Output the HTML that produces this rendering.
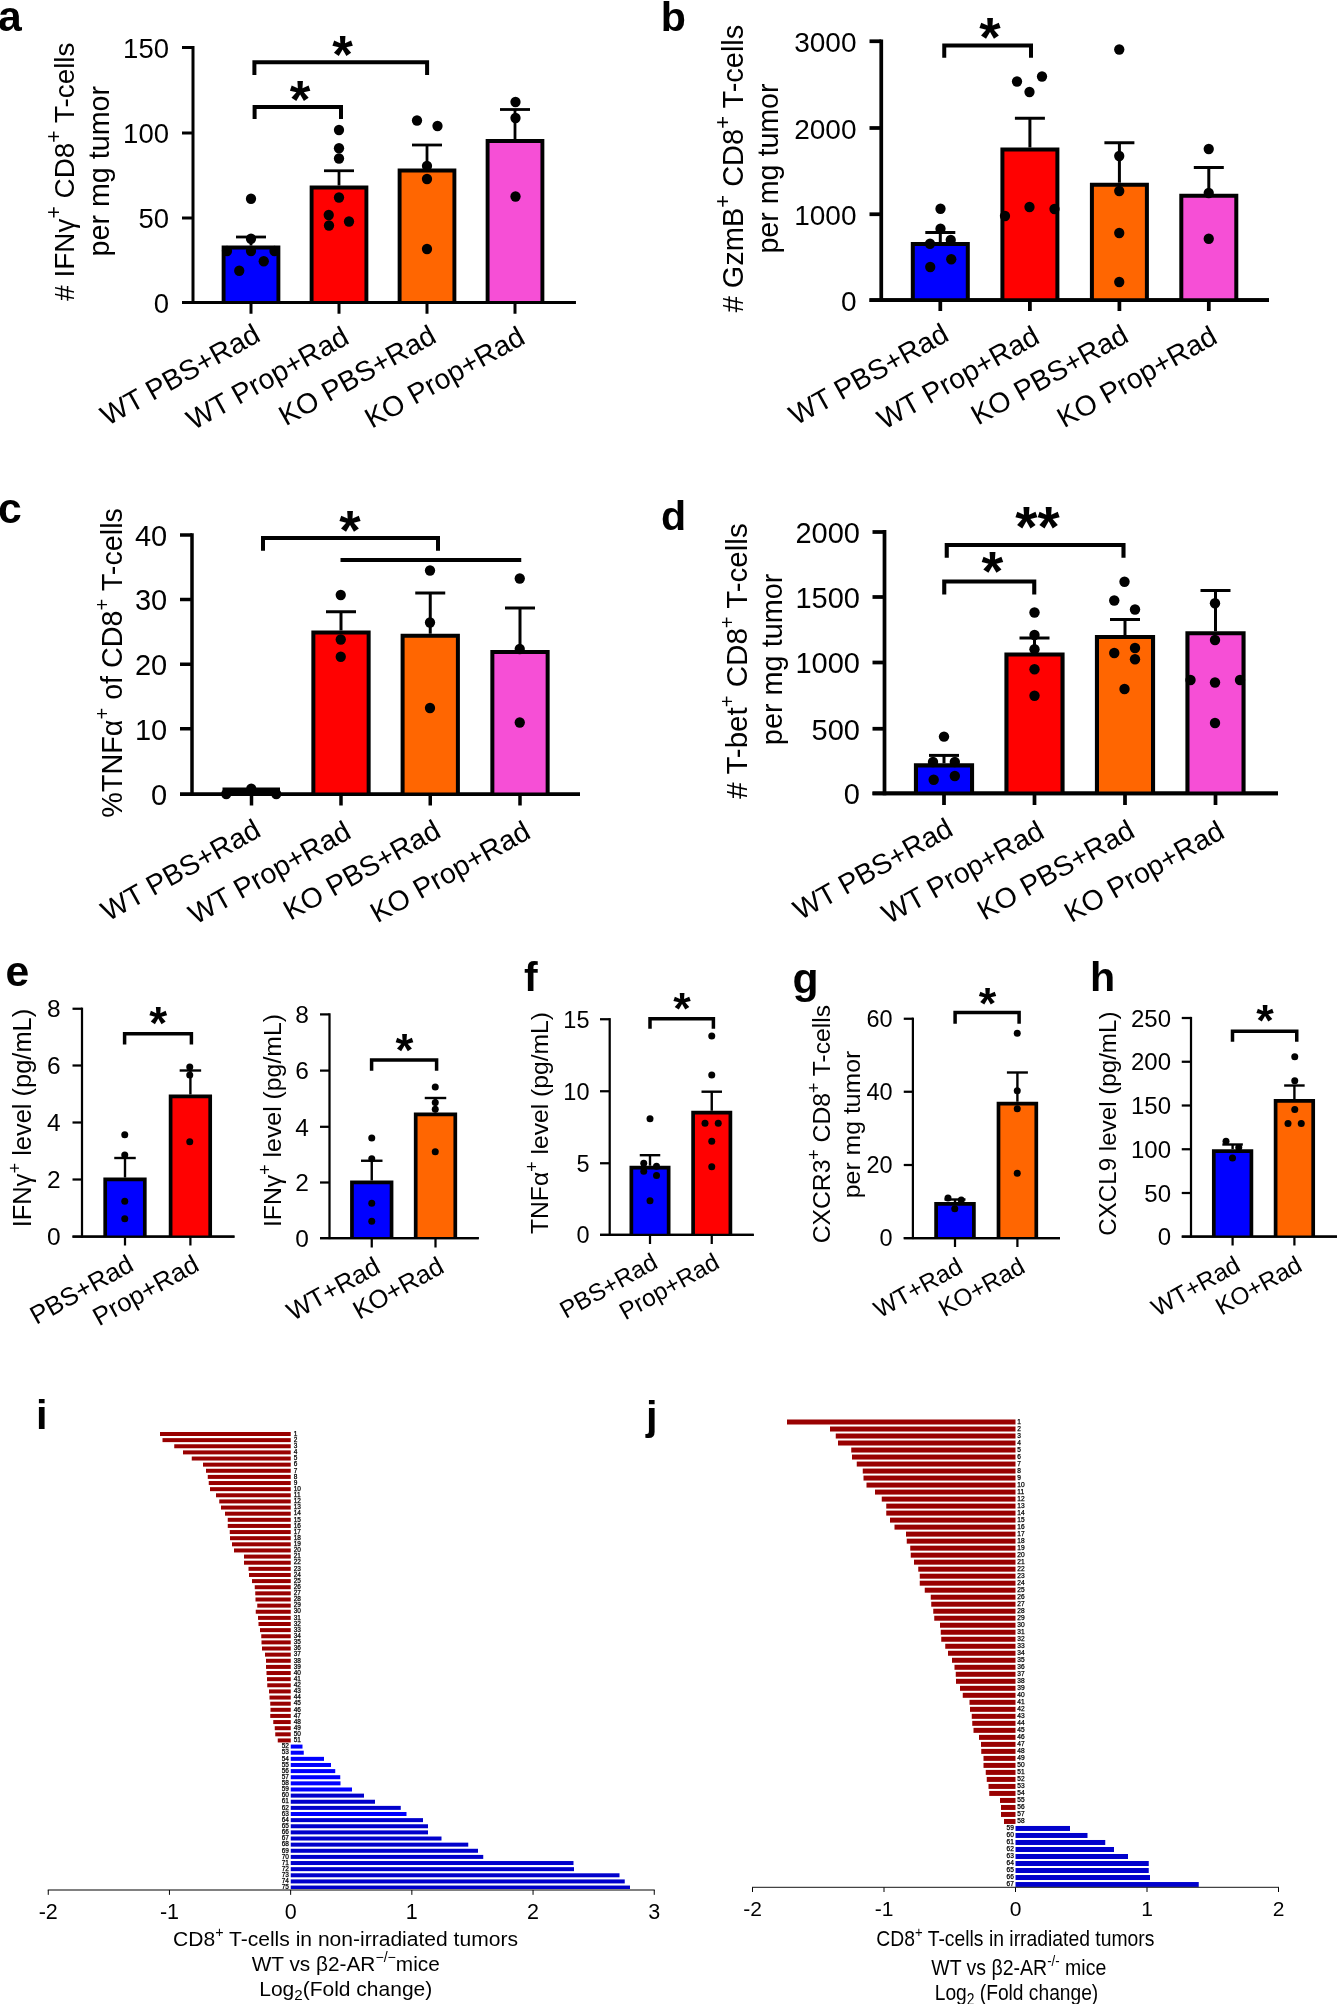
<!DOCTYPE html>
<html><head><meta charset="utf-8"><title>Figure</title>
<style>
html,body{margin:0;padding:0;background:#fff;}
body{width:1337px;height:2004px;overflow:hidden;font-family:"Liberation Sans",sans-serif;}
svg{display:block;}
svg text{font-family:"Liberation Sans",sans-serif;fill:#000;}
</style></head><body>
<svg width="1337" height="2004" viewBox="0 0 1337 2004">
<rect width="1337" height="2004" fill="#fff"/>
<g opacity="0.999">
<line x1="193" y1="46" x2="193" y2="304" stroke="#000" stroke-width="3" stroke-linecap="butt"/>
<line x1="182" y1="302.5" x2="575.8" y2="302.5" stroke="#000" stroke-width="3" stroke-linecap="butt"/>
<line x1="182" y1="47.5" x2="193" y2="47.5" stroke="#000" stroke-width="3" stroke-linecap="butt"/>
<text x="169" y="57.8" font-size="27.5" text-anchor="end" font-weight="normal" >150</text>
<line x1="182" y1="133" x2="193" y2="133" stroke="#000" stroke-width="3" stroke-linecap="butt"/>
<text x="169" y="143.3" font-size="27.5" text-anchor="end" font-weight="normal" >100</text>
<line x1="182" y1="218" x2="193" y2="218" stroke="#000" stroke-width="3" stroke-linecap="butt"/>
<text x="169" y="228.3" font-size="27.5" text-anchor="end" font-weight="normal" >50</text>
<text x="169" y="312.8" font-size="27.5" text-anchor="end" font-weight="normal" >0</text>
<line x1="251" y1="302.5" x2="251" y2="313.75" stroke="#000" stroke-width="3" stroke-linecap="butt"/>
<rect x="223.6" y="247.45" width="54.8" height="55.05" fill="#0000ff"/>
<path d="M223.6 302.5V247.45H278.4V302.5" fill="none" stroke="#000" stroke-width="3.9" stroke-linejoin="miter"/>
<line x1="251" y1="237" x2="251" y2="245.5" stroke="#000" stroke-width="2.8" stroke-linecap="butt"/>
<line x1="236" y1="237" x2="266" y2="237" stroke="#000" stroke-width="2.8" stroke-linecap="butt"/>
<line x1="339" y1="302.5" x2="339" y2="313.75" stroke="#000" stroke-width="3" stroke-linecap="butt"/>
<rect x="311.6" y="187.45" width="54.8" height="115.05" fill="#ff0000"/>
<path d="M311.6 302.5V187.45H366.4V302.5" fill="none" stroke="#000" stroke-width="3.9" stroke-linejoin="miter"/>
<line x1="339" y1="170.75" x2="339" y2="185.5" stroke="#000" stroke-width="2.8" stroke-linecap="butt"/>
<line x1="324" y1="170.75" x2="354" y2="170.75" stroke="#000" stroke-width="2.8" stroke-linecap="butt"/>
<line x1="427" y1="302.5" x2="427" y2="313.75" stroke="#000" stroke-width="3" stroke-linecap="butt"/>
<rect x="399.6" y="170.45" width="54.8" height="132.05" fill="#ff6600"/>
<path d="M399.6 302.5V170.45H454.4V302.5" fill="none" stroke="#000" stroke-width="3.9" stroke-linejoin="miter"/>
<line x1="427" y1="145" x2="427" y2="168.5" stroke="#000" stroke-width="2.8" stroke-linecap="butt"/>
<line x1="412" y1="145" x2="442" y2="145" stroke="#000" stroke-width="2.8" stroke-linecap="butt"/>
<line x1="515" y1="302.5" x2="515" y2="313.75" stroke="#000" stroke-width="3" stroke-linecap="butt"/>
<rect x="487.6" y="140.95" width="54.8" height="161.55" fill="#f64fd6"/>
<path d="M487.6 302.5V140.95H542.4V302.5" fill="none" stroke="#000" stroke-width="3.9" stroke-linejoin="miter"/>
<line x1="515" y1="109.5" x2="515" y2="139" stroke="#000" stroke-width="2.8" stroke-linecap="butt"/>
<line x1="500" y1="109.5" x2="530" y2="109.5" stroke="#000" stroke-width="2.8" stroke-linecap="butt"/>
<line x1="182" y1="302.5" x2="575.8" y2="302.5" stroke="#000" stroke-width="3" stroke-linecap="butt"/>
<circle cx="251" cy="198.75" r="5.15" fill="#000"/>
<circle cx="251" cy="238.75" r="5.15" fill="#000"/>
<circle cx="227" cy="251" r="5.15" fill="#000"/>
<circle cx="251" cy="251" r="5.15" fill="#000"/>
<circle cx="274.5" cy="251" r="5.15" fill="#000"/>
<circle cx="263.75" cy="261.25" r="5.15" fill="#000"/>
<circle cx="239.25" cy="270.75" r="5.15" fill="#000"/>
<circle cx="339" cy="130" r="5.15" fill="#000"/>
<circle cx="339" cy="148.25" r="5.15" fill="#000"/>
<circle cx="339" cy="158.5" r="5.15" fill="#000"/>
<circle cx="339" cy="197.5" r="5.15" fill="#000"/>
<circle cx="328.75" cy="215" r="5.15" fill="#000"/>
<circle cx="349" cy="221.5" r="5.15" fill="#000"/>
<circle cx="329" cy="225.5" r="5.15" fill="#000"/>
<circle cx="417" cy="120.5" r="5.15" fill="#000"/>
<circle cx="437.5" cy="126" r="5.15" fill="#000"/>
<circle cx="427" cy="166" r="5.15" fill="#000"/>
<circle cx="427" cy="179" r="5.15" fill="#000"/>
<circle cx="427" cy="249" r="5.15" fill="#000"/>
<circle cx="515.5" cy="102" r="5.15" fill="#000"/>
<circle cx="515.5" cy="118" r="5.15" fill="#000"/>
<circle cx="515.5" cy="196.5" r="5.15" fill="#000"/>
<text transform="translate(262,340) rotate(-29.2)" font-size="28.4" text-anchor="end" font-weight="normal" >WT PBS+Rad</text>
<text transform="translate(350.8,342.5) rotate(-29.2)" font-size="28.4" text-anchor="end" font-weight="normal" >WT Prop+Rad</text>
<text transform="translate(438,341.3) rotate(-29.2)" font-size="28.4" text-anchor="end" font-weight="normal" >KO PBS+Rad</text>
<text transform="translate(526.8,342.5) rotate(-29.2)" font-size="28.4" text-anchor="end" font-weight="normal" >KO Prop+Rad</text>
<path d="M254.4 75V62.25H427.1V75" fill="none" stroke="#000" stroke-width="4"/>
<path d="M254.6 119V107H341V119" fill="none" stroke="#000" stroke-width="4"/>
<text x="342.5" y="73.04" font-size="53" text-anchor="middle" font-weight="bold" >*</text>
<text x="300" y="117.64" font-size="53" text-anchor="middle" font-weight="bold" >*</text>
<text transform="translate(73.7,171.6) rotate(-90)" font-size="27.89" text-anchor="middle" font-weight="normal" ># IFNγ<tspan font-size="76%" dy="-0.605em">+</tspan><tspan dy="0.460em"> CD8</tspan><tspan font-size="76%" dy="-0.605em">+</tspan><tspan dy="0.460em"> T-cells</tspan></text>
<text transform="translate(108.9,171.2) rotate(-90)" font-size="28.71" text-anchor="middle" font-weight="normal" >per mg tumor</text>
<text x="-2" y="31" font-size="42.7" text-anchor="start" font-weight="bold" >a</text>
<line x1="881.25" y1="39.38" x2="881.25" y2="301.88" stroke="#000" stroke-width="3.75" stroke-linecap="butt"/>
<line x1="869.5" y1="300" x2="1269" y2="300" stroke="#000" stroke-width="3.75" stroke-linecap="butt"/>
<line x1="869.5" y1="41.25" x2="881.25" y2="41.25" stroke="#000" stroke-width="3.75" stroke-linecap="butt"/>
<text x="856.5" y="52.05" font-size="28" text-anchor="end" font-weight="normal" >3000</text>
<line x1="869.5" y1="128" x2="881.25" y2="128" stroke="#000" stroke-width="3.75" stroke-linecap="butt"/>
<text x="856.5" y="138.8" font-size="28" text-anchor="end" font-weight="normal" >2000</text>
<line x1="869.5" y1="214.25" x2="881.25" y2="214.25" stroke="#000" stroke-width="3.75" stroke-linecap="butt"/>
<text x="856.5" y="225.05" font-size="28" text-anchor="end" font-weight="normal" >1000</text>
<text x="856.5" y="310.8" font-size="28" text-anchor="end" font-weight="normal" >0</text>
<line x1="940.3" y1="300" x2="940.3" y2="311" stroke="#000" stroke-width="3.75" stroke-linecap="butt"/>
<rect x="912.8" y="244" width="55" height="56" fill="#0000ff"/>
<path d="M912.8 300V244H967.8V300" fill="none" stroke="#000" stroke-width="4" stroke-linejoin="miter"/>
<line x1="940.3" y1="232.5" x2="940.3" y2="242" stroke="#000" stroke-width="3" stroke-linecap="butt"/>
<line x1="925.3" y1="232.5" x2="955.3" y2="232.5" stroke="#000" stroke-width="3" stroke-linecap="butt"/>
<line x1="1029.9" y1="300" x2="1029.9" y2="311" stroke="#000" stroke-width="3.75" stroke-linecap="butt"/>
<rect x="1002.4" y="149.5" width="55" height="150.5" fill="#ff0000"/>
<path d="M1002.4 300V149.5H1057.4V300" fill="none" stroke="#000" stroke-width="4" stroke-linejoin="miter"/>
<line x1="1029.9" y1="118.25" x2="1029.9" y2="147.5" stroke="#000" stroke-width="3" stroke-linecap="butt"/>
<line x1="1014.9" y1="118.25" x2="1044.9" y2="118.25" stroke="#000" stroke-width="3" stroke-linecap="butt"/>
<line x1="1119.4" y1="300" x2="1119.4" y2="311" stroke="#000" stroke-width="3.75" stroke-linecap="butt"/>
<rect x="1091.9" y="184.75" width="55" height="115.25" fill="#ff6600"/>
<path d="M1091.9 300V184.75H1146.9V300" fill="none" stroke="#000" stroke-width="4" stroke-linejoin="miter"/>
<line x1="1119.4" y1="142.75" x2="1119.4" y2="182.75" stroke="#000" stroke-width="3" stroke-linecap="butt"/>
<line x1="1104.4" y1="142.75" x2="1134.4" y2="142.75" stroke="#000" stroke-width="3" stroke-linecap="butt"/>
<line x1="1208.8" y1="300" x2="1208.8" y2="311" stroke="#000" stroke-width="3.75" stroke-linecap="butt"/>
<rect x="1181.3" y="195.75" width="55" height="104.25" fill="#f64fd6"/>
<path d="M1181.3 300V195.75H1236.3V300" fill="none" stroke="#000" stroke-width="4" stroke-linejoin="miter"/>
<line x1="1208.8" y1="167.5" x2="1208.8" y2="193.75" stroke="#000" stroke-width="3" stroke-linecap="butt"/>
<line x1="1193.8" y1="167.5" x2="1223.8" y2="167.5" stroke="#000" stroke-width="3" stroke-linecap="butt"/>
<line x1="869.5" y1="300" x2="1269" y2="300" stroke="#000" stroke-width="3.75" stroke-linecap="butt"/>
<circle cx="940.5" cy="208.75" r="5.15" fill="#000"/>
<circle cx="940.5" cy="228.75" r="5.15" fill="#000"/>
<circle cx="930" cy="243.75" r="5.15" fill="#000"/>
<circle cx="950.75" cy="240" r="5.15" fill="#000"/>
<circle cx="951.25" cy="259.25" r="5.15" fill="#000"/>
<circle cx="930.25" cy="267" r="5.15" fill="#000"/>
<circle cx="1017" cy="81.5" r="5.15" fill="#000"/>
<circle cx="1042" cy="76.5" r="5.15" fill="#000"/>
<circle cx="1029.5" cy="92" r="5.15" fill="#000"/>
<circle cx="1029.5" cy="207" r="5.15" fill="#000"/>
<circle cx="1054.5" cy="209" r="5.15" fill="#000"/>
<circle cx="1005" cy="216" r="5.15" fill="#000"/>
<circle cx="1119.25" cy="49.5" r="5.15" fill="#000"/>
<circle cx="1119.25" cy="156" r="5.15" fill="#000"/>
<circle cx="1119.25" cy="191" r="5.15" fill="#000"/>
<circle cx="1119.25" cy="233" r="5.15" fill="#000"/>
<circle cx="1119.25" cy="282" r="5.15" fill="#000"/>
<circle cx="1208.75" cy="149" r="5.15" fill="#000"/>
<circle cx="1208.75" cy="193" r="5.15" fill="#000"/>
<circle cx="1208.75" cy="238.75" r="5.15" fill="#000"/>
<text transform="translate(950.6,339.5) rotate(-29.2)" font-size="28.4" text-anchor="end" font-weight="normal" >WT PBS+Rad</text>
<text transform="translate(1041.4,342) rotate(-29.2)" font-size="28.4" text-anchor="end" font-weight="normal" >WT Prop+Rad</text>
<text transform="translate(1130.2,340.7) rotate(-29.2)" font-size="28.4" text-anchor="end" font-weight="normal" >KO PBS+Rad</text>
<text transform="translate(1219.1,342) rotate(-29.2)" font-size="28.4" text-anchor="end" font-weight="normal" >KO Prop+Rad</text>
<path d="M944.25 57.8V45.5H1031V57.8" fill="none" stroke="#000" stroke-width="4"/>
<text x="990" y="55.81" font-size="55" text-anchor="middle" font-weight="bold" >*</text>
<text transform="translate(743,168.55) rotate(-90)" font-size="28.97" text-anchor="middle" font-weight="normal" ># GzmB<tspan font-size="76%" dy="-0.605em">+</tspan><tspan dy="0.460em"> CD8</tspan><tspan font-size="76%" dy="-0.605em">+</tspan><tspan dy="0.460em"> T-cells</tspan></text>
<text transform="translate(778,168.5) rotate(-90)" font-size="28.61" text-anchor="middle" font-weight="normal" >per mg tumor</text>
<text x="660.7" y="30.5" font-size="41.2" text-anchor="start" font-weight="bold" >b</text>
<line x1="192" y1="533.25" x2="192" y2="796" stroke="#000" stroke-width="3.5" stroke-linecap="butt"/>
<line x1="180" y1="794.25" x2="580" y2="794.25" stroke="#000" stroke-width="3.5" stroke-linecap="butt"/>
<line x1="180" y1="535" x2="192" y2="535" stroke="#000" stroke-width="3.5" stroke-linecap="butt"/>
<text x="167.2" y="545.9" font-size="29" text-anchor="end" font-weight="normal" >40</text>
<line x1="180" y1="599.5" x2="192" y2="599.5" stroke="#000" stroke-width="3.5" stroke-linecap="butt"/>
<text x="167.2" y="610.4" font-size="29" text-anchor="end" font-weight="normal" >30</text>
<line x1="180" y1="664.25" x2="192" y2="664.25" stroke="#000" stroke-width="3.5" stroke-linecap="butt"/>
<text x="167.2" y="675.15" font-size="29" text-anchor="end" font-weight="normal" >20</text>
<line x1="180" y1="728.75" x2="192" y2="728.75" stroke="#000" stroke-width="3.5" stroke-linecap="butt"/>
<text x="167.2" y="739.65" font-size="29" text-anchor="end" font-weight="normal" >10</text>
<text x="167.2" y="805.15" font-size="29" text-anchor="end" font-weight="normal" >0</text>
<line x1="251.5" y1="794.25" x2="251.5" y2="805.5" stroke="#000" stroke-width="3.5" stroke-linecap="butt"/>
<line x1="341" y1="794.25" x2="341" y2="805.5" stroke="#000" stroke-width="3.5" stroke-linecap="butt"/>
<rect x="313.35" y="632.5" width="55.3" height="161.75" fill="#ff0000"/>
<path d="M313.35 794.25V632.5H368.65V794.25" fill="none" stroke="#000" stroke-width="4" stroke-linejoin="miter"/>
<line x1="341" y1="611.75" x2="341" y2="630.5" stroke="#000" stroke-width="3" stroke-linecap="butt"/>
<line x1="326" y1="611.75" x2="356" y2="611.75" stroke="#000" stroke-width="3" stroke-linecap="butt"/>
<line x1="430.25" y1="794.25" x2="430.25" y2="805.5" stroke="#000" stroke-width="3.5" stroke-linecap="butt"/>
<rect x="402.6" y="635.75" width="55.3" height="158.5" fill="#ff6600"/>
<path d="M402.6 794.25V635.75H457.9V794.25" fill="none" stroke="#000" stroke-width="4" stroke-linejoin="miter"/>
<line x1="430.25" y1="593" x2="430.25" y2="633.75" stroke="#000" stroke-width="3" stroke-linecap="butt"/>
<line x1="415.25" y1="593" x2="445.25" y2="593" stroke="#000" stroke-width="3" stroke-linecap="butt"/>
<line x1="520" y1="794.25" x2="520" y2="805.5" stroke="#000" stroke-width="3.5" stroke-linecap="butt"/>
<rect x="492.35" y="652" width="55.3" height="142.25" fill="#f64fd6"/>
<path d="M492.35 794.25V652H547.65V794.25" fill="none" stroke="#000" stroke-width="4" stroke-linejoin="miter"/>
<line x1="520" y1="608" x2="520" y2="650" stroke="#000" stroke-width="3" stroke-linecap="butt"/>
<line x1="505" y1="608" x2="535" y2="608" stroke="#000" stroke-width="3" stroke-linecap="butt"/>
<line x1="180" y1="794.25" x2="580" y2="794.25" stroke="#000" stroke-width="3.5" stroke-linecap="butt"/>
<circle cx="226.25" cy="794" r="5.15" fill="#000"/>
<circle cx="251.25" cy="788.75" r="5.15" fill="#000"/>
<circle cx="276.25" cy="794" r="5.15" fill="#000"/>
<circle cx="340.75" cy="595" r="5.15" fill="#000"/>
<circle cx="340.75" cy="639.5" r="5.15" fill="#000"/>
<circle cx="340.75" cy="656.75" r="5.15" fill="#000"/>
<circle cx="430" cy="570.5" r="5.15" fill="#000"/>
<circle cx="430" cy="622.5" r="5.15" fill="#000"/>
<circle cx="430" cy="708" r="5.15" fill="#000"/>
<circle cx="519.75" cy="578.5" r="5.15" fill="#000"/>
<circle cx="519.75" cy="649" r="5.15" fill="#000"/>
<circle cx="519.75" cy="722.5" r="5.15" fill="#000"/>
<text transform="translate(262.5,835.3) rotate(-29.2)" font-size="28.4" text-anchor="end" font-weight="normal" >WT PBS+Rad</text>
<text transform="translate(352.8,837) rotate(-29.2)" font-size="28.4" text-anchor="end" font-weight="normal" >WT Prop+Rad</text>
<text transform="translate(442.45,836) rotate(-29.2)" font-size="28.4" text-anchor="end" font-weight="normal" >KO PBS+Rad</text>
<text transform="translate(532.2,837) rotate(-29.2)" font-size="28.4" text-anchor="end" font-weight="normal" >KO Prop+Rad</text>
<path d="M263 550.8V538H438V550.8" fill="none" stroke="#000" stroke-width="4"/>
<line x1="340.5" y1="560" x2="521.25" y2="560" stroke="#000" stroke-width="4" stroke-linecap="butt"/>
<line x1="222.5" y1="790.5" x2="280" y2="790.5" stroke="#000" stroke-width="6" stroke-linecap="butt"/>
<text x="350" y="549.01" font-size="55" text-anchor="middle" font-weight="bold" >*</text>
<text transform="translate(121.9,662.9) rotate(-90)" font-size="28.76" text-anchor="middle" font-weight="normal" >%TNFα<tspan font-size="70%" dy="-0.643em">+</tspan><tspan dy="0.450em"> of CD8</tspan><tspan font-size="70%" dy="-0.643em">+</tspan><tspan dy="0.450em"> T-cells</tspan></text>
<text x="-2" y="522.5" font-size="42.7" text-anchor="start" font-weight="bold" >c</text>
<line x1="884.5" y1="530.12" x2="884.5" y2="795.17" stroke="#000" stroke-width="3.75" stroke-linecap="butt"/>
<line x1="872.5" y1="793.3" x2="1278" y2="793.3" stroke="#000" stroke-width="3.75" stroke-linecap="butt"/>
<line x1="872.5" y1="532" x2="884.5" y2="532" stroke="#000" stroke-width="3.75" stroke-linecap="butt"/>
<text x="860" y="542.8" font-size="29" text-anchor="end" font-weight="normal" >2000</text>
<line x1="872.5" y1="597" x2="884.5" y2="597" stroke="#000" stroke-width="3.75" stroke-linecap="butt"/>
<text x="860" y="607.8" font-size="29" text-anchor="end" font-weight="normal" >1500</text>
<line x1="872.5" y1="662.5" x2="884.5" y2="662.5" stroke="#000" stroke-width="3.75" stroke-linecap="butt"/>
<text x="860" y="673.3" font-size="29" text-anchor="end" font-weight="normal" >1000</text>
<line x1="872.5" y1="728.75" x2="884.5" y2="728.75" stroke="#000" stroke-width="3.75" stroke-linecap="butt"/>
<text x="860" y="739.55" font-size="29" text-anchor="end" font-weight="normal" >500</text>
<text x="860" y="804.1" font-size="29" text-anchor="end" font-weight="normal" >0</text>
<line x1="944" y1="793.3" x2="944" y2="805" stroke="#000" stroke-width="3.75" stroke-linecap="butt"/>
<rect x="915.95" y="765.35" width="56.1" height="27.95" fill="#0000ff"/>
<path d="M915.95 793.3V765.35H972.05V793.3" fill="none" stroke="#000" stroke-width="4.1" stroke-linejoin="miter"/>
<line x1="944" y1="755.4" x2="944" y2="763.3" stroke="#000" stroke-width="3" stroke-linecap="butt"/>
<line x1="929" y1="755.4" x2="959" y2="755.4" stroke="#000" stroke-width="3" stroke-linecap="butt"/>
<line x1="1034.5" y1="793.3" x2="1034.5" y2="805" stroke="#000" stroke-width="3.75" stroke-linecap="butt"/>
<rect x="1006.45" y="654.55" width="56.1" height="138.75" fill="#ff0000"/>
<path d="M1006.45 793.3V654.55H1062.55V793.3" fill="none" stroke="#000" stroke-width="4.1" stroke-linejoin="miter"/>
<line x1="1034.5" y1="638" x2="1034.5" y2="652.5" stroke="#000" stroke-width="3" stroke-linecap="butt"/>
<line x1="1019.5" y1="638" x2="1049.5" y2="638" stroke="#000" stroke-width="3" stroke-linecap="butt"/>
<line x1="1125" y1="793.3" x2="1125" y2="805" stroke="#000" stroke-width="3.75" stroke-linecap="butt"/>
<rect x="1096.95" y="637.05" width="56.1" height="156.25" fill="#ff6600"/>
<path d="M1096.95 793.3V637.05H1153.05V793.3" fill="none" stroke="#000" stroke-width="4.1" stroke-linejoin="miter"/>
<line x1="1125" y1="619.5" x2="1125" y2="635" stroke="#000" stroke-width="3" stroke-linecap="butt"/>
<line x1="1110" y1="619.5" x2="1140" y2="619.5" stroke="#000" stroke-width="3" stroke-linecap="butt"/>
<line x1="1215.5" y1="793.3" x2="1215.5" y2="805" stroke="#000" stroke-width="3.75" stroke-linecap="butt"/>
<rect x="1187.45" y="633.3" width="56.1" height="160" fill="#f64fd6"/>
<path d="M1187.45 793.3V633.3H1243.55V793.3" fill="none" stroke="#000" stroke-width="4.1" stroke-linejoin="miter"/>
<line x1="1215.5" y1="590.5" x2="1215.5" y2="631.25" stroke="#000" stroke-width="3" stroke-linecap="butt"/>
<line x1="1200.5" y1="590.5" x2="1230.5" y2="590.5" stroke="#000" stroke-width="3" stroke-linecap="butt"/>
<line x1="872.5" y1="793.3" x2="1278" y2="793.3" stroke="#000" stroke-width="3.75" stroke-linecap="butt"/>
<circle cx="944" cy="736.6" r="5.2" fill="#000"/>
<circle cx="933" cy="762" r="5.2" fill="#000"/>
<circle cx="954.8" cy="762" r="5.2" fill="#000"/>
<circle cx="954.8" cy="776" r="5.2" fill="#000"/>
<circle cx="933.7" cy="779.7" r="5.2" fill="#000"/>
<circle cx="1034.5" cy="612.5" r="5.2" fill="#000"/>
<circle cx="1034.5" cy="635" r="5.2" fill="#000"/>
<circle cx="1034.5" cy="649.25" r="5.2" fill="#000"/>
<circle cx="1034.5" cy="669.25" r="5.2" fill="#000"/>
<circle cx="1034.5" cy="695.75" r="5.2" fill="#000"/>
<circle cx="1124.5" cy="581.75" r="5.2" fill="#000"/>
<circle cx="1114.25" cy="600.5" r="5.2" fill="#000"/>
<circle cx="1135" cy="609.5" r="5.2" fill="#000"/>
<circle cx="1135" cy="648" r="5.2" fill="#000"/>
<circle cx="1114.25" cy="653" r="5.2" fill="#000"/>
<circle cx="1135" cy="659.25" r="5.2" fill="#000"/>
<circle cx="1124.5" cy="689" r="5.2" fill="#000"/>
<circle cx="1215" cy="603.25" r="5.2" fill="#000"/>
<circle cx="1215" cy="640" r="5.2" fill="#000"/>
<circle cx="1190.5" cy="680" r="5.2" fill="#000"/>
<circle cx="1215" cy="682.5" r="5.2" fill="#000"/>
<circle cx="1240" cy="680" r="5.2" fill="#000"/>
<circle cx="1215" cy="723" r="5.2" fill="#000"/>
<text transform="translate(954.8,834.2) rotate(-29.2)" font-size="28.4" text-anchor="end" font-weight="normal" >WT PBS+Rad</text>
<text transform="translate(1046,836.7) rotate(-29.2)" font-size="28.4" text-anchor="end" font-weight="normal" >WT Prop+Rad</text>
<text transform="translate(1136.5,836) rotate(-29.2)" font-size="28.4" text-anchor="end" font-weight="normal" >KO PBS+Rad</text>
<text transform="translate(1226.3,836.7) rotate(-29.2)" font-size="28.4" text-anchor="end" font-weight="normal" >KO Prop+Rad</text>
<path d="M946.75 557.8V545H1123.5V557.8" fill="none" stroke="#000" stroke-width="4.1"/>
<path d="M944.25 594.5V581.5H1034.25V594.5" fill="none" stroke="#000" stroke-width="4.1"/>
<text x="1037.5" y="547.39" font-size="57" text-anchor="middle" font-weight="bold" >**</text>
<text x="992.5" y="590.05" font-size="56" text-anchor="middle" font-weight="bold" >*</text>
<text transform="translate(746.8,661) rotate(-90)" font-size="29.57" text-anchor="middle" font-weight="normal" ># T-bet<tspan font-size="68%" dy="-0.618em">+</tspan><tspan dy="0.420em"> CD8</tspan><tspan font-size="68%" dy="-0.618em">+</tspan><tspan dy="0.420em"> T-cells</tspan></text>
<text transform="translate(781.8,659.35) rotate(-90)" font-size="28.86" text-anchor="middle" font-weight="normal" >per mg tumor</text>
<text x="661" y="530" font-size="41.2" text-anchor="start" font-weight="bold" >d</text>
<line x1="82" y1="1007.62" x2="82" y2="1237.62" stroke="#000" stroke-width="2.25" stroke-linecap="butt"/>
<line x1="72.5" y1="1236.5" x2="234.5" y2="1236.5" stroke="#000" stroke-width="2.25" stroke-linecap="butt"/>
<line x1="72.5" y1="1008.75" x2="82" y2="1008.75" stroke="#000" stroke-width="2.25" stroke-linecap="butt"/>
<text x="60.6" y="1017.45" font-size="24.5" text-anchor="end" font-weight="normal" >8</text>
<line x1="72.5" y1="1065.5" x2="82" y2="1065.5" stroke="#000" stroke-width="2.25" stroke-linecap="butt"/>
<text x="60.6" y="1074.2" font-size="24.5" text-anchor="end" font-weight="normal" >6</text>
<line x1="72.5" y1="1122.5" x2="82" y2="1122.5" stroke="#000" stroke-width="2.25" stroke-linecap="butt"/>
<text x="60.6" y="1131.2" font-size="24.5" text-anchor="end" font-weight="normal" >4</text>
<line x1="72.5" y1="1179.5" x2="82" y2="1179.5" stroke="#000" stroke-width="2.25" stroke-linecap="butt"/>
<text x="60.6" y="1188.2" font-size="24.5" text-anchor="end" font-weight="normal" >2</text>
<text x="60.6" y="1245.2" font-size="24.5" text-anchor="end" font-weight="normal" >0</text>
<line x1="125" y1="1236.5" x2="125" y2="1245.5" stroke="#000" stroke-width="2.25" stroke-linecap="butt"/>
<rect x="105.2" y="1179.35" width="39.6" height="57.15" fill="#0000ff"/>
<path d="M105.2 1236.5V1179.35H144.8V1236.5" fill="none" stroke="#000" stroke-width="3.7" stroke-linejoin="miter"/>
<line x1="125" y1="1158" x2="125" y2="1177.5" stroke="#000" stroke-width="2.4" stroke-linecap="butt"/>
<line x1="114.25" y1="1158" x2="135.75" y2="1158" stroke="#000" stroke-width="2.4" stroke-linecap="butt"/>
<line x1="190.4" y1="1236.5" x2="190.4" y2="1245.5" stroke="#000" stroke-width="2.25" stroke-linecap="butt"/>
<rect x="170.6" y="1096.35" width="39.6" height="140.15" fill="#ff0000"/>
<path d="M170.6 1236.5V1096.35H210.2V1236.5" fill="none" stroke="#000" stroke-width="3.7" stroke-linejoin="miter"/>
<line x1="190.4" y1="1070.5" x2="190.4" y2="1094.5" stroke="#000" stroke-width="2.4" stroke-linecap="butt"/>
<line x1="179.65" y1="1070.5" x2="201.15" y2="1070.5" stroke="#000" stroke-width="2.4" stroke-linecap="butt"/>
<line x1="72.5" y1="1236.5" x2="234.5" y2="1236.5" stroke="#000" stroke-width="2.25" stroke-linecap="butt"/>
<circle cx="124.75" cy="1134.75" r="3.5" fill="#000"/>
<circle cx="124.75" cy="1155" r="3.5" fill="#000"/>
<circle cx="124.75" cy="1201.25" r="3.5" fill="#000"/>
<circle cx="124.75" cy="1218.75" r="3.5" fill="#000"/>
<circle cx="189.75" cy="1067" r="3.5" fill="#000"/>
<circle cx="189.75" cy="1075" r="3.5" fill="#000"/>
<circle cx="189.75" cy="1141.75" r="3.5" fill="#000"/>
<text transform="translate(135.3,1269.6) rotate(-29.2)" font-size="25.7" text-anchor="end" font-weight="normal" >PBS+Rad</text>
<text transform="translate(200.7,1269.6) rotate(-29.2)" font-size="25.7" text-anchor="end" font-weight="normal" >Prop+Rad</text>
<path d="M124.6 1044.5V1033.75H191.4V1044.5" fill="none" stroke="#000" stroke-width="3.5"/>
<text x="158.25" y="1038.67" font-size="46" text-anchor="middle" font-weight="bold" >*</text>
<text transform="translate(31.4,1118.05) rotate(-90)" font-size="25.45" text-anchor="middle" font-weight="normal" >IFNγ<tspan font-size="72%" dy="-0.556em">+</tspan><tspan dy="0.400em"> level (pg/mL)</tspan></text>
<text x="5.5" y="985.5" font-size="42.7" text-anchor="start" font-weight="bold" >e</text>
<line x1="329.5" y1="1013.27" x2="329.5" y2="1239.12" stroke="#000" stroke-width="2.25" stroke-linecap="butt"/>
<line x1="320" y1="1238" x2="478.75" y2="1238" stroke="#000" stroke-width="2.25" stroke-linecap="butt"/>
<line x1="320" y1="1014.4" x2="329.5" y2="1014.4" stroke="#000" stroke-width="2.25" stroke-linecap="butt"/>
<text x="309" y="1023.2" font-size="24.5" text-anchor="end" font-weight="normal" >8</text>
<line x1="320" y1="1070.6" x2="329.5" y2="1070.6" stroke="#000" stroke-width="2.25" stroke-linecap="butt"/>
<text x="309" y="1079.4" font-size="24.5" text-anchor="end" font-weight="normal" >6</text>
<line x1="320" y1="1126.8" x2="329.5" y2="1126.8" stroke="#000" stroke-width="2.25" stroke-linecap="butt"/>
<text x="309" y="1135.6" font-size="24.5" text-anchor="end" font-weight="normal" >4</text>
<line x1="320" y1="1182.5" x2="329.5" y2="1182.5" stroke="#000" stroke-width="2.25" stroke-linecap="butt"/>
<text x="309" y="1191.3" font-size="24.5" text-anchor="end" font-weight="normal" >2</text>
<text x="309" y="1246.8" font-size="24.5" text-anchor="end" font-weight="normal" >0</text>
<line x1="371.75" y1="1238" x2="371.75" y2="1247.5" stroke="#000" stroke-width="2.25" stroke-linecap="butt"/>
<rect x="351.95" y="1182.35" width="39.6" height="55.65" fill="#0000ff"/>
<path d="M351.95 1238V1182.35H391.55V1238" fill="none" stroke="#000" stroke-width="3.7" stroke-linejoin="miter"/>
<line x1="371.75" y1="1160.75" x2="371.75" y2="1180.5" stroke="#000" stroke-width="2.4" stroke-linecap="butt"/>
<line x1="361" y1="1160.75" x2="382.5" y2="1160.75" stroke="#000" stroke-width="2.4" stroke-linecap="butt"/>
<line x1="435.5" y1="1238" x2="435.5" y2="1247.5" stroke="#000" stroke-width="2.25" stroke-linecap="butt"/>
<rect x="415.7" y="1114.35" width="39.6" height="123.65" fill="#ff6600"/>
<path d="M415.7 1238V1114.35H455.3V1238" fill="none" stroke="#000" stroke-width="3.7" stroke-linejoin="miter"/>
<line x1="435.5" y1="1098" x2="435.5" y2="1112.5" stroke="#000" stroke-width="2.4" stroke-linecap="butt"/>
<line x1="424.75" y1="1098" x2="446.25" y2="1098" stroke="#000" stroke-width="2.4" stroke-linecap="butt"/>
<line x1="320" y1="1238" x2="478.75" y2="1238" stroke="#000" stroke-width="2.25" stroke-linecap="butt"/>
<circle cx="371.75" cy="1138" r="3.5" fill="#000"/>
<circle cx="371.75" cy="1158.75" r="3.5" fill="#000"/>
<circle cx="371.75" cy="1203.25" r="3.5" fill="#000"/>
<circle cx="371.75" cy="1221.25" r="3.5" fill="#000"/>
<circle cx="435.25" cy="1087" r="3.5" fill="#000"/>
<circle cx="435.25" cy="1102.5" r="3.5" fill="#000"/>
<circle cx="435.25" cy="1109.25" r="3.5" fill="#000"/>
<circle cx="435.25" cy="1151.75" r="3.5" fill="#000"/>
<text transform="translate(382.05,1271.5) rotate(-29.2)" font-size="25.7" text-anchor="end" font-weight="normal" >WT+Rad</text>
<text transform="translate(445.8,1271.5) rotate(-29.2)" font-size="25.7" text-anchor="end" font-weight="normal" >KO+Rad</text>
<path d="M371.6 1070.75V1060H436.6V1070.75" fill="none" stroke="#000" stroke-width="3.5"/>
<text x="404.5" y="1065.92" font-size="46" text-anchor="middle" font-weight="bold" >*</text>
<text transform="translate(280.5,1120.55) rotate(-90)" font-size="24.82" text-anchor="middle" font-weight="normal" >IFNγ<tspan font-size="72%" dy="-0.556em">+</tspan><tspan dy="0.400em"> level (pg/mL)</tspan></text>
<text x="-100" y="-100" font-size="40.5" text-anchor="start" font-weight="bold" ></text>
<line x1="609.7" y1="1018.12" x2="609.7" y2="1235.92" stroke="#000" stroke-width="2.25" stroke-linecap="butt"/>
<line x1="600" y1="1234.8" x2="753.75" y2="1234.8" stroke="#000" stroke-width="2.25" stroke-linecap="butt"/>
<line x1="600" y1="1019.25" x2="609.7" y2="1019.25" stroke="#000" stroke-width="2.25" stroke-linecap="butt"/>
<text x="589.5" y="1027.85" font-size="23.5" text-anchor="end" font-weight="normal" >15</text>
<line x1="600" y1="1091.25" x2="609.7" y2="1091.25" stroke="#000" stroke-width="2.25" stroke-linecap="butt"/>
<text x="589.5" y="1099.85" font-size="23.5" text-anchor="end" font-weight="normal" >10</text>
<line x1="600" y1="1163.25" x2="609.7" y2="1163.25" stroke="#000" stroke-width="2.25" stroke-linecap="butt"/>
<text x="589.5" y="1171.85" font-size="23.5" text-anchor="end" font-weight="normal" >5</text>
<text x="589.5" y="1243.4" font-size="23.5" text-anchor="end" font-weight="normal" >0</text>
<line x1="650" y1="1234.8" x2="650" y2="1244" stroke="#000" stroke-width="2.25" stroke-linecap="butt"/>
<rect x="631.35" y="1167.6" width="37.3" height="67.2" fill="#0000ff"/>
<path d="M631.35 1234.8V1167.6H668.65V1234.8" fill="none" stroke="#000" stroke-width="3.7" stroke-linejoin="miter"/>
<line x1="650" y1="1155.2" x2="650" y2="1165.75" stroke="#000" stroke-width="2.4" stroke-linecap="butt"/>
<line x1="639.75" y1="1155.2" x2="660.25" y2="1155.2" stroke="#000" stroke-width="2.4" stroke-linecap="butt"/>
<line x1="711.75" y1="1234.8" x2="711.75" y2="1244" stroke="#000" stroke-width="2.25" stroke-linecap="butt"/>
<rect x="693.1" y="1112.6" width="37.3" height="122.2" fill="#ff0000"/>
<path d="M693.1 1234.8V1112.6H730.4V1234.8" fill="none" stroke="#000" stroke-width="3.7" stroke-linejoin="miter"/>
<line x1="711.75" y1="1091.7" x2="711.75" y2="1110.75" stroke="#000" stroke-width="2.4" stroke-linecap="butt"/>
<line x1="701.5" y1="1091.7" x2="722" y2="1091.7" stroke="#000" stroke-width="2.4" stroke-linecap="butt"/>
<line x1="600" y1="1234.8" x2="753.75" y2="1234.8" stroke="#000" stroke-width="2.25" stroke-linecap="butt"/>
<circle cx="650" cy="1118.75" r="3.5" fill="#000"/>
<circle cx="643.75" cy="1163.25" r="3.5" fill="#000"/>
<circle cx="656.5" cy="1166.25" r="3.5" fill="#000"/>
<circle cx="643.75" cy="1171.25" r="3.5" fill="#000"/>
<circle cx="656.5" cy="1175.5" r="3.5" fill="#000"/>
<circle cx="650" cy="1200.75" r="3.5" fill="#000"/>
<circle cx="711.75" cy="1036" r="3.5" fill="#000"/>
<circle cx="711.75" cy="1075" r="3.5" fill="#000"/>
<circle cx="705" cy="1123.25" r="3.5" fill="#000"/>
<circle cx="718.25" cy="1123.25" r="3.5" fill="#000"/>
<circle cx="711.75" cy="1141.25" r="3.5" fill="#000"/>
<circle cx="711.75" cy="1166.75" r="3.5" fill="#000"/>
<text transform="translate(659.3,1266.8) rotate(-29.2)" font-size="24.25" text-anchor="end" font-weight="normal" >PBS+Rad</text>
<text transform="translate(721.05,1266.8) rotate(-29.2)" font-size="24.25" text-anchor="end" font-weight="normal" >Prop+Rad</text>
<path d="M650 1028.75V1018.75H713.4V1028.75" fill="none" stroke="#000" stroke-width="3.5"/>
<text x="682" y="1023.84" font-size="45" text-anchor="middle" font-weight="bold" >*</text>
<text transform="translate(548.3,1123) rotate(-90)" font-size="24.68" text-anchor="middle" font-weight="normal" >TNFα<tspan font-size="72%" dy="-0.556em">+</tspan><tspan dy="0.400em"> level (pg/mL)</tspan></text>
<text x="524" y="991" font-size="41" text-anchor="start" font-weight="bold" >f</text>
<line x1="912.9" y1="1017.62" x2="912.9" y2="1239.12" stroke="#000" stroke-width="2.25" stroke-linecap="butt"/>
<line x1="903.75" y1="1238" x2="1060" y2="1238" stroke="#000" stroke-width="2.25" stroke-linecap="butt"/>
<line x1="903.75" y1="1018.75" x2="912.9" y2="1018.75" stroke="#000" stroke-width="2.25" stroke-linecap="butt"/>
<text x="892.7" y="1027.15" font-size="23.5" text-anchor="end" font-weight="normal" >60</text>
<line x1="903.75" y1="1091.75" x2="912.9" y2="1091.75" stroke="#000" stroke-width="2.25" stroke-linecap="butt"/>
<text x="892.7" y="1100.15" font-size="23.5" text-anchor="end" font-weight="normal" >40</text>
<line x1="903.75" y1="1165" x2="912.9" y2="1165" stroke="#000" stroke-width="2.25" stroke-linecap="butt"/>
<text x="892.7" y="1173.4" font-size="23.5" text-anchor="end" font-weight="normal" >20</text>
<text x="892.7" y="1246.4" font-size="23.5" text-anchor="end" font-weight="normal" >0</text>
<line x1="955" y1="1238" x2="955" y2="1247" stroke="#000" stroke-width="2.25" stroke-linecap="butt"/>
<rect x="936.1" y="1203.85" width="37.8" height="34.15" fill="#0000ff"/>
<path d="M936.1 1238V1203.85H973.9V1238" fill="none" stroke="#000" stroke-width="3.7" stroke-linejoin="miter"/>
<line x1="955" y1="1199.5" x2="955" y2="1202" stroke="#000" stroke-width="2.4" stroke-linecap="butt"/>
<line x1="944.5" y1="1199.5" x2="965.5" y2="1199.5" stroke="#000" stroke-width="2.4" stroke-linecap="butt"/>
<line x1="1017.4" y1="1238" x2="1017.4" y2="1247" stroke="#000" stroke-width="2.25" stroke-linecap="butt"/>
<rect x="998.5" y="1103.6" width="37.8" height="134.4" fill="#ff6600"/>
<path d="M998.5 1238V1103.6H1036.3V1238" fill="none" stroke="#000" stroke-width="3.7" stroke-linejoin="miter"/>
<line x1="1017.4" y1="1072.5" x2="1017.4" y2="1101.75" stroke="#000" stroke-width="2.4" stroke-linecap="butt"/>
<line x1="1006.9" y1="1072.5" x2="1027.9" y2="1072.5" stroke="#000" stroke-width="2.4" stroke-linecap="butt"/>
<line x1="903.75" y1="1238" x2="1060" y2="1238" stroke="#000" stroke-width="2.25" stroke-linecap="butt"/>
<circle cx="948" cy="1198" r="3.5" fill="#000"/>
<circle cx="961.25" cy="1200" r="3.5" fill="#000"/>
<circle cx="954.75" cy="1208.75" r="3.5" fill="#000"/>
<circle cx="1017.25" cy="1033.25" r="3.5" fill="#000"/>
<circle cx="1017.25" cy="1090.75" r="3.5" fill="#000"/>
<circle cx="1017.25" cy="1108.75" r="3.5" fill="#000"/>
<circle cx="1017.25" cy="1173.25" r="3.5" fill="#000"/>
<text transform="translate(964.3,1271.3) rotate(-29.2)" font-size="24.4" text-anchor="end" font-weight="normal" >WT+Rad</text>
<text transform="translate(1026.7,1271.3) rotate(-29.2)" font-size="24.4" text-anchor="end" font-weight="normal" >KO+Rad</text>
<path d="M955.1 1023.75V1012.5H1019.1V1023.75" fill="none" stroke="#000" stroke-width="3.5"/>
<text x="987.5" y="1018.94" font-size="45" text-anchor="middle" font-weight="bold" >*</text>
<text transform="translate(830.1,1124.1) rotate(-90)" font-size="24.69" text-anchor="middle" font-weight="normal" >CXCR3<tspan font-size="72%" dy="-0.556em">+</tspan><tspan dy="0.400em"> CD8</tspan><tspan font-size="72%" dy="-0.556em">+</tspan><tspan dy="0.400em"> T-cells</tspan></text>
<text transform="translate(860,1124.45) rotate(-90)" font-size="24.82" text-anchor="middle" font-weight="normal" >per mg tumor</text>
<text x="792.6" y="992.5" font-size="42.7" text-anchor="start" font-weight="bold" >g</text>
<line x1="1191" y1="1016.88" x2="1191" y2="1237.62" stroke="#000" stroke-width="2.25" stroke-linecap="butt"/>
<line x1="1181.75" y1="1236.5" x2="1337" y2="1236.5" stroke="#000" stroke-width="2.25" stroke-linecap="butt"/>
<line x1="1181.75" y1="1018" x2="1191" y2="1018" stroke="#000" stroke-width="2.25" stroke-linecap="butt"/>
<text x="1171" y="1026.6" font-size="24" text-anchor="end" font-weight="normal" >250</text>
<line x1="1181.75" y1="1061.75" x2="1191" y2="1061.75" stroke="#000" stroke-width="2.25" stroke-linecap="butt"/>
<text x="1171" y="1070.35" font-size="24" text-anchor="end" font-weight="normal" >200</text>
<line x1="1181.75" y1="1105.5" x2="1191" y2="1105.5" stroke="#000" stroke-width="2.25" stroke-linecap="butt"/>
<text x="1171" y="1114.1" font-size="24" text-anchor="end" font-weight="normal" >150</text>
<line x1="1181.75" y1="1149.25" x2="1191" y2="1149.25" stroke="#000" stroke-width="2.25" stroke-linecap="butt"/>
<text x="1171" y="1157.85" font-size="24" text-anchor="end" font-weight="normal" >100</text>
<line x1="1181.75" y1="1193" x2="1191" y2="1193" stroke="#000" stroke-width="2.25" stroke-linecap="butt"/>
<text x="1171" y="1201.6" font-size="24" text-anchor="end" font-weight="normal" >50</text>
<text x="1171" y="1245.1" font-size="24" text-anchor="end" font-weight="normal" >0</text>
<line x1="1232.6" y1="1236.5" x2="1232.6" y2="1245.5" stroke="#000" stroke-width="2.25" stroke-linecap="butt"/>
<rect x="1213.8" y="1151.1" width="37.6" height="85.4" fill="#0000ff"/>
<path d="M1213.8 1236.5V1151.1H1251.4V1236.5" fill="none" stroke="#000" stroke-width="3.7" stroke-linejoin="miter"/>
<line x1="1232.6" y1="1144.5" x2="1232.6" y2="1149.25" stroke="#000" stroke-width="2.4" stroke-linecap="butt"/>
<line x1="1222.35" y1="1144.5" x2="1242.85" y2="1144.5" stroke="#000" stroke-width="2.4" stroke-linecap="butt"/>
<line x1="1294.4" y1="1236.5" x2="1294.4" y2="1245.5" stroke="#000" stroke-width="2.25" stroke-linecap="butt"/>
<rect x="1275.6" y="1100.85" width="37.6" height="135.65" fill="#ff6600"/>
<path d="M1275.6 1236.5V1100.85H1313.2V1236.5" fill="none" stroke="#000" stroke-width="3.7" stroke-linejoin="miter"/>
<line x1="1294.4" y1="1085.5" x2="1294.4" y2="1099" stroke="#000" stroke-width="2.4" stroke-linecap="butt"/>
<line x1="1284.15" y1="1085.5" x2="1304.65" y2="1085.5" stroke="#000" stroke-width="2.4" stroke-linecap="butt"/>
<line x1="1181.75" y1="1236.5" x2="1337" y2="1236.5" stroke="#000" stroke-width="2.25" stroke-linecap="butt"/>
<circle cx="1226" cy="1141.25" r="3.5" fill="#000"/>
<circle cx="1238.75" cy="1147.5" r="3.5" fill="#000"/>
<circle cx="1232.5" cy="1158" r="3.5" fill="#000"/>
<circle cx="1294.75" cy="1056.75" r="3.5" fill="#000"/>
<circle cx="1294.75" cy="1080.75" r="3.5" fill="#000"/>
<circle cx="1294.75" cy="1109.5" r="3.5" fill="#000"/>
<circle cx="1288" cy="1123.5" r="3.5" fill="#000"/>
<circle cx="1301.25" cy="1123.5" r="3.5" fill="#000"/>
<text transform="translate(1241.9,1269.8) rotate(-29.2)" font-size="24.4" text-anchor="end" font-weight="normal" >WT+Rad</text>
<text transform="translate(1303.7,1269.8) rotate(-29.2)" font-size="24.4" text-anchor="end" font-weight="normal" >KO+Rad</text>
<path d="M1232.5 1041.75V1031.25H1296.75V1041.75" fill="none" stroke="#000" stroke-width="3.5"/>
<text x="1265" y="1036.04" font-size="45" text-anchor="middle" font-weight="bold" >*</text>
<text transform="translate(1116,1123.65) rotate(-90)" font-size="24.16" text-anchor="middle" font-weight="normal" >CXCL9 level (pg/mL)</text>
<text x="1090" y="991" font-size="41.2" text-anchor="start" font-weight="bold" >h</text>
<rect x="160" y="1432" width="130.75" height="4" fill="#990000"/>
<text x="293.75" y="1435.74" font-size="6.5" text-anchor="start" font-weight="normal" stroke="#000" stroke-width="0.25">1</text>
<rect x="162.5" y="1438.13" width="128.25" height="4" fill="#990000"/>
<text x="293.75" y="1441.87" font-size="6.5" text-anchor="start" font-weight="normal" stroke="#000" stroke-width="0.25">2</text>
<rect x="174.25" y="1444.26" width="116.5" height="4" fill="#990000"/>
<text x="293.75" y="1448" font-size="6.5" text-anchor="start" font-weight="normal" stroke="#000" stroke-width="0.25">3</text>
<rect x="183" y="1450.39" width="107.75" height="4" fill="#990000"/>
<text x="293.75" y="1454.13" font-size="6.5" text-anchor="start" font-weight="normal" stroke="#000" stroke-width="0.25">4</text>
<rect x="191.75" y="1456.52" width="99" height="4" fill="#990000"/>
<text x="293.75" y="1460.26" font-size="6.5" text-anchor="start" font-weight="normal" stroke="#000" stroke-width="0.25">5</text>
<rect x="203" y="1462.64" width="87.75" height="4" fill="#990000"/>
<text x="293.75" y="1466.38" font-size="6.5" text-anchor="start" font-weight="normal" stroke="#000" stroke-width="0.25">6</text>
<rect x="206" y="1468.77" width="84.75" height="4" fill="#990000"/>
<text x="293.75" y="1472.51" font-size="6.5" text-anchor="start" font-weight="normal" stroke="#000" stroke-width="0.25">7</text>
<rect x="207.75" y="1474.9" width="83" height="4" fill="#990000"/>
<text x="293.75" y="1478.64" font-size="6.5" text-anchor="start" font-weight="normal" stroke="#000" stroke-width="0.25">8</text>
<rect x="208.75" y="1481.03" width="82" height="4" fill="#990000"/>
<text x="293.75" y="1484.77" font-size="6.5" text-anchor="start" font-weight="normal" stroke="#000" stroke-width="0.25">9</text>
<rect x="210" y="1487.16" width="80.75" height="4" fill="#990000"/>
<text x="293.75" y="1490.9" font-size="6.5" text-anchor="start" font-weight="normal" stroke="#000" stroke-width="0.25">10</text>
<rect x="216" y="1493.29" width="74.75" height="4" fill="#990000"/>
<text x="293.75" y="1497.03" font-size="6.5" text-anchor="start" font-weight="normal" stroke="#000" stroke-width="0.25">11</text>
<rect x="219.25" y="1499.42" width="71.5" height="4" fill="#990000"/>
<text x="293.75" y="1503.16" font-size="6.5" text-anchor="start" font-weight="normal" stroke="#000" stroke-width="0.25">12</text>
<rect x="221" y="1505.55" width="69.75" height="4" fill="#990000"/>
<text x="293.75" y="1509.29" font-size="6.5" text-anchor="start" font-weight="normal" stroke="#000" stroke-width="0.25">13</text>
<rect x="225" y="1511.68" width="65.75" height="4" fill="#990000"/>
<text x="293.75" y="1515.42" font-size="6.5" text-anchor="start" font-weight="normal" stroke="#000" stroke-width="0.25">14</text>
<rect x="227.75" y="1517.81" width="63" height="4" fill="#990000"/>
<text x="293.75" y="1521.55" font-size="6.5" text-anchor="start" font-weight="normal" stroke="#000" stroke-width="0.25">15</text>
<rect x="227.75" y="1523.93" width="63" height="4" fill="#990000"/>
<text x="293.75" y="1527.67" font-size="6.5" text-anchor="start" font-weight="normal" stroke="#000" stroke-width="0.25">16</text>
<rect x="229.75" y="1530.06" width="61" height="4" fill="#990000"/>
<text x="293.75" y="1533.8" font-size="6.5" text-anchor="start" font-weight="normal" stroke="#000" stroke-width="0.25">17</text>
<rect x="230" y="1536.19" width="60.75" height="4" fill="#990000"/>
<text x="293.75" y="1539.93" font-size="6.5" text-anchor="start" font-weight="normal" stroke="#000" stroke-width="0.25">18</text>
<rect x="232" y="1542.32" width="58.75" height="4" fill="#990000"/>
<text x="293.75" y="1546.06" font-size="6.5" text-anchor="start" font-weight="normal" stroke="#000" stroke-width="0.25">19</text>
<rect x="234" y="1548.45" width="56.75" height="4" fill="#990000"/>
<text x="293.75" y="1552.19" font-size="6.5" text-anchor="start" font-weight="normal" stroke="#000" stroke-width="0.25">20</text>
<rect x="244" y="1554.58" width="46.75" height="4" fill="#990000"/>
<text x="293.75" y="1558.32" font-size="6.5" text-anchor="start" font-weight="normal" stroke="#000" stroke-width="0.25">21</text>
<rect x="244" y="1560.71" width="46.75" height="4" fill="#990000"/>
<text x="293.75" y="1564.45" font-size="6.5" text-anchor="start" font-weight="normal" stroke="#000" stroke-width="0.25">22</text>
<rect x="248.5" y="1566.84" width="42.25" height="4" fill="#990000"/>
<text x="293.75" y="1570.58" font-size="6.5" text-anchor="start" font-weight="normal" stroke="#000" stroke-width="0.25">23</text>
<rect x="249" y="1572.97" width="41.75" height="4" fill="#990000"/>
<text x="293.75" y="1576.71" font-size="6.5" text-anchor="start" font-weight="normal" stroke="#000" stroke-width="0.25">24</text>
<rect x="252" y="1579.1" width="38.75" height="4" fill="#990000"/>
<text x="293.75" y="1582.84" font-size="6.5" text-anchor="start" font-weight="normal" stroke="#000" stroke-width="0.25">25</text>
<rect x="254.75" y="1585.22" width="36" height="4" fill="#990000"/>
<text x="293.75" y="1588.96" font-size="6.5" text-anchor="start" font-weight="normal" stroke="#000" stroke-width="0.25">26</text>
<rect x="255.25" y="1591.35" width="35.5" height="4" fill="#990000"/>
<text x="293.75" y="1595.09" font-size="6.5" text-anchor="start" font-weight="normal" stroke="#000" stroke-width="0.25">27</text>
<rect x="255.5" y="1597.48" width="35.25" height="4" fill="#990000"/>
<text x="293.75" y="1601.22" font-size="6.5" text-anchor="start" font-weight="normal" stroke="#000" stroke-width="0.25">28</text>
<rect x="257.25" y="1603.61" width="33.5" height="4" fill="#990000"/>
<text x="293.75" y="1607.35" font-size="6.5" text-anchor="start" font-weight="normal" stroke="#000" stroke-width="0.25">29</text>
<rect x="255.75" y="1609.74" width="35" height="4" fill="#990000"/>
<text x="293.75" y="1613.48" font-size="6.5" text-anchor="start" font-weight="normal" stroke="#000" stroke-width="0.25">30</text>
<rect x="258" y="1615.87" width="32.75" height="4" fill="#990000"/>
<text x="293.75" y="1619.61" font-size="6.5" text-anchor="start" font-weight="normal" stroke="#000" stroke-width="0.25">31</text>
<rect x="258.5" y="1622" width="32.25" height="4" fill="#990000"/>
<text x="293.75" y="1625.74" font-size="6.5" text-anchor="start" font-weight="normal" stroke="#000" stroke-width="0.25">32</text>
<rect x="260" y="1628.13" width="30.75" height="4" fill="#990000"/>
<text x="293.75" y="1631.87" font-size="6.5" text-anchor="start" font-weight="normal" stroke="#000" stroke-width="0.25">33</text>
<rect x="261.25" y="1634.26" width="29.5" height="4" fill="#990000"/>
<text x="293.75" y="1638" font-size="6.5" text-anchor="start" font-weight="normal" stroke="#000" stroke-width="0.25">34</text>
<rect x="261.5" y="1640.39" width="29.25" height="4" fill="#990000"/>
<text x="293.75" y="1644.13" font-size="6.5" text-anchor="start" font-weight="normal" stroke="#000" stroke-width="0.25">35</text>
<rect x="262" y="1646.51" width="28.75" height="4" fill="#990000"/>
<text x="293.75" y="1650.25" font-size="6.5" text-anchor="start" font-weight="normal" stroke="#000" stroke-width="0.25">36</text>
<rect x="265" y="1652.64" width="25.75" height="4" fill="#990000"/>
<text x="293.75" y="1656.38" font-size="6.5" text-anchor="start" font-weight="normal" stroke="#000" stroke-width="0.25">37</text>
<rect x="266" y="1658.77" width="24.75" height="4" fill="#990000"/>
<text x="293.75" y="1662.51" font-size="6.5" text-anchor="start" font-weight="normal" stroke="#000" stroke-width="0.25">38</text>
<rect x="266" y="1664.9" width="24.75" height="4" fill="#990000"/>
<text x="293.75" y="1668.64" font-size="6.5" text-anchor="start" font-weight="normal" stroke="#000" stroke-width="0.25">39</text>
<rect x="266.5" y="1671.03" width="24.25" height="4" fill="#990000"/>
<text x="293.75" y="1674.77" font-size="6.5" text-anchor="start" font-weight="normal" stroke="#000" stroke-width="0.25">40</text>
<rect x="267" y="1677.16" width="23.75" height="4" fill="#990000"/>
<text x="293.75" y="1680.9" font-size="6.5" text-anchor="start" font-weight="normal" stroke="#000" stroke-width="0.25">41</text>
<rect x="267.25" y="1683.29" width="23.5" height="4" fill="#990000"/>
<text x="293.75" y="1687.03" font-size="6.5" text-anchor="start" font-weight="normal" stroke="#000" stroke-width="0.25">42</text>
<rect x="269" y="1689.42" width="21.75" height="4" fill="#990000"/>
<text x="293.75" y="1693.16" font-size="6.5" text-anchor="start" font-weight="normal" stroke="#000" stroke-width="0.25">43</text>
<rect x="269.5" y="1695.55" width="21.25" height="4" fill="#990000"/>
<text x="293.75" y="1699.29" font-size="6.5" text-anchor="start" font-weight="normal" stroke="#000" stroke-width="0.25">44</text>
<rect x="270.25" y="1701.68" width="20.5" height="4" fill="#990000"/>
<text x="293.75" y="1705.42" font-size="6.5" text-anchor="start" font-weight="normal" stroke="#000" stroke-width="0.25">45</text>
<rect x="270.5" y="1707.81" width="20.25" height="4" fill="#990000"/>
<text x="293.75" y="1711.55" font-size="6.5" text-anchor="start" font-weight="normal" stroke="#000" stroke-width="0.25">46</text>
<rect x="270.25" y="1713.93" width="20.5" height="4" fill="#990000"/>
<text x="293.75" y="1717.67" font-size="6.5" text-anchor="start" font-weight="normal" stroke="#000" stroke-width="0.25">47</text>
<rect x="273.25" y="1720.06" width="17.5" height="4" fill="#990000"/>
<text x="293.75" y="1723.8" font-size="6.5" text-anchor="start" font-weight="normal" stroke="#000" stroke-width="0.25">48</text>
<rect x="274.75" y="1726.19" width="16" height="4" fill="#990000"/>
<text x="293.75" y="1729.93" font-size="6.5" text-anchor="start" font-weight="normal" stroke="#000" stroke-width="0.25">49</text>
<rect x="275.25" y="1732.32" width="15.5" height="4" fill="#990000"/>
<text x="293.75" y="1736.06" font-size="6.5" text-anchor="start" font-weight="normal" stroke="#000" stroke-width="0.25">50</text>
<rect x="277.75" y="1738.45" width="13" height="4" fill="#990000"/>
<text x="293.75" y="1742.19" font-size="6.5" text-anchor="start" font-weight="normal" stroke="#000" stroke-width="0.25">51</text>
<rect x="290.75" y="1744.58" width="11.75" height="4" fill="#0000ff"/>
<text x="288.95" y="1748.32" font-size="6.5" text-anchor="end" font-weight="normal" stroke="#000" stroke-width="0.25">52</text>
<rect x="290.75" y="1750.71" width="13" height="4" fill="#0000ff"/>
<text x="288.95" y="1754.45" font-size="6.5" text-anchor="end" font-weight="normal" stroke="#000" stroke-width="0.25">53</text>
<rect x="290.75" y="1756.84" width="33.25" height="4" fill="#0000ff"/>
<text x="288.95" y="1760.58" font-size="6.5" text-anchor="end" font-weight="normal" stroke="#000" stroke-width="0.25">54</text>
<rect x="290.75" y="1762.97" width="40.25" height="4" fill="#0000ff"/>
<text x="288.95" y="1766.71" font-size="6.5" text-anchor="end" font-weight="normal" stroke="#000" stroke-width="0.25">55</text>
<rect x="290.75" y="1769.1" width="44.5" height="4" fill="#0000ff"/>
<text x="288.95" y="1772.84" font-size="6.5" text-anchor="end" font-weight="normal" stroke="#000" stroke-width="0.25">56</text>
<rect x="290.75" y="1775.22" width="49.5" height="4" fill="#0000ff"/>
<text x="288.95" y="1778.96" font-size="6.5" text-anchor="end" font-weight="normal" stroke="#000" stroke-width="0.25">57</text>
<rect x="290.75" y="1781.35" width="49.75" height="4" fill="#0000ff"/>
<text x="288.95" y="1785.09" font-size="6.5" text-anchor="end" font-weight="normal" stroke="#000" stroke-width="0.25">58</text>
<rect x="290.75" y="1787.48" width="61.25" height="4" fill="#0000ff"/>
<text x="288.95" y="1791.22" font-size="6.5" text-anchor="end" font-weight="normal" stroke="#000" stroke-width="0.25">59</text>
<rect x="290.75" y="1793.61" width="73.25" height="4" fill="#0000cc"/>
<text x="288.95" y="1797.35" font-size="6.5" text-anchor="end" font-weight="normal" stroke="#000" stroke-width="0.25">60</text>
<rect x="290.75" y="1799.74" width="84.25" height="4" fill="#0000cc"/>
<text x="288.95" y="1803.48" font-size="6.5" text-anchor="end" font-weight="normal" stroke="#000" stroke-width="0.25">61</text>
<rect x="290.75" y="1805.87" width="110" height="4" fill="#0000cc"/>
<text x="288.95" y="1809.61" font-size="6.5" text-anchor="end" font-weight="normal" stroke="#000" stroke-width="0.25">62</text>
<rect x="290.75" y="1812" width="115.75" height="4" fill="#0000ff"/>
<text x="288.95" y="1815.74" font-size="6.5" text-anchor="end" font-weight="normal" stroke="#000" stroke-width="0.25">63</text>
<rect x="290.75" y="1818.13" width="132.25" height="4" fill="#0000cc"/>
<text x="288.95" y="1821.87" font-size="6.5" text-anchor="end" font-weight="normal" stroke="#000" stroke-width="0.25">64</text>
<rect x="290.75" y="1824.26" width="137.25" height="4" fill="#0000cc"/>
<text x="288.95" y="1828" font-size="6.5" text-anchor="end" font-weight="normal" stroke="#000" stroke-width="0.25">65</text>
<rect x="290.75" y="1830.38" width="137.25" height="4" fill="#0000cc"/>
<text x="288.95" y="1834.12" font-size="6.5" text-anchor="end" font-weight="normal" stroke="#000" stroke-width="0.25">66</text>
<rect x="290.75" y="1836.51" width="150.75" height="4" fill="#0000cc"/>
<text x="288.95" y="1840.25" font-size="6.5" text-anchor="end" font-weight="normal" stroke="#000" stroke-width="0.25">67</text>
<rect x="290.75" y="1842.64" width="177.5" height="4" fill="#0000cc"/>
<text x="288.95" y="1846.38" font-size="6.5" text-anchor="end" font-weight="normal" stroke="#000" stroke-width="0.25">68</text>
<rect x="290.75" y="1848.77" width="187.25" height="4" fill="#0000cc"/>
<text x="288.95" y="1852.51" font-size="6.5" text-anchor="end" font-weight="normal" stroke="#000" stroke-width="0.25">69</text>
<rect x="290.75" y="1854.9" width="192.5" height="4" fill="#0000cc"/>
<text x="288.95" y="1858.64" font-size="6.5" text-anchor="end" font-weight="normal" stroke="#000" stroke-width="0.25">70</text>
<rect x="290.75" y="1861.03" width="282.75" height="4" fill="#0000cc"/>
<text x="288.95" y="1864.77" font-size="6.5" text-anchor="end" font-weight="normal" stroke="#000" stroke-width="0.25">71</text>
<rect x="290.75" y="1867.16" width="283.25" height="4" fill="#0000cc"/>
<text x="288.95" y="1870.9" font-size="6.5" text-anchor="end" font-weight="normal" stroke="#000" stroke-width="0.25">72</text>
<rect x="290.75" y="1873.29" width="328.75" height="4" fill="#0000cc"/>
<text x="288.95" y="1877.03" font-size="6.5" text-anchor="end" font-weight="normal" stroke="#000" stroke-width="0.25">73</text>
<rect x="290.75" y="1879.42" width="334" height="4" fill="#0000cc"/>
<text x="288.95" y="1883.16" font-size="6.5" text-anchor="end" font-weight="normal" stroke="#000" stroke-width="0.25">74</text>
<rect x="290.75" y="1885.55" width="339.25" height="4" fill="#0000cc"/>
<text x="288.95" y="1889.29" font-size="6.5" text-anchor="end" font-weight="normal" stroke="#000" stroke-width="0.25">75</text>
<line x1="47.75" y1="1890" x2="654.75" y2="1890" stroke="#808080" stroke-width="2" stroke-linecap="butt"/>
<line x1="48.25" y1="1890" x2="48.25" y2="1894.85" stroke="#000" stroke-width="1" stroke-linecap="butt"/>
<text x="48.25" y="1918.5" font-size="21.5" text-anchor="middle" font-weight="normal" >-2</text>
<line x1="169.45" y1="1890" x2="169.45" y2="1894.85" stroke="#000" stroke-width="1" stroke-linecap="butt"/>
<text x="169.45" y="1918.5" font-size="21.5" text-anchor="middle" font-weight="normal" >-1</text>
<line x1="290.65" y1="1890" x2="290.65" y2="1894.85" stroke="#000" stroke-width="1" stroke-linecap="butt"/>
<text x="290.65" y="1918.5" font-size="21.5" text-anchor="middle" font-weight="normal" >0</text>
<line x1="411.85" y1="1890" x2="411.85" y2="1894.85" stroke="#000" stroke-width="1" stroke-linecap="butt"/>
<text x="411.85" y="1918.5" font-size="21.5" text-anchor="middle" font-weight="normal" >1</text>
<line x1="533.05" y1="1890" x2="533.05" y2="1894.85" stroke="#000" stroke-width="1" stroke-linecap="butt"/>
<text x="533.05" y="1918.5" font-size="21.5" text-anchor="middle" font-weight="normal" >2</text>
<line x1="654.25" y1="1890" x2="654.25" y2="1894.85" stroke="#000" stroke-width="1" stroke-linecap="butt"/>
<text x="654.25" y="1918.5" font-size="21.5" text-anchor="middle" font-weight="normal" >3</text>
<text x="345.5" y="1945.5" font-size="21.06" text-anchor="middle" font-weight="normal" >CD8<tspan font-size="68%" dy="-0.588em">+</tspan><tspan dy="0.400em"> T-cells in non-irradiated tumors</tspan></text>
<text x="345.75" y="1970.5" font-size="20.8" text-anchor="middle" font-weight="normal" >WT vs β2-AR<tspan font-size="68%" dy="-0.588em">−/−</tspan><tspan dy="0.400em">mice</tspan></text>
<text x="345.75" y="1995.5" font-size="21" text-anchor="middle" font-weight="normal" >Log<tspan font-size="72%" dy="0.306em">2</tspan><tspan dy="-0.220em">(Fold change)</tspan></text>
<text x="36" y="1429.25" font-size="41.5" text-anchor="start" font-weight="bold" >i</text>
<rect x="787" y="1419.5" width="228.5" height="5" fill="#990000"/>
<text x="1017.3" y="1423.78" font-size="6.6" text-anchor="start" font-weight="normal" stroke="#000" stroke-width="0.25">1</text>
<rect x="830" y="1426.51" width="185.5" height="5" fill="#990000"/>
<text x="1017.3" y="1430.78" font-size="6.6" text-anchor="start" font-weight="normal" stroke="#000" stroke-width="0.25">2</text>
<rect x="835.75" y="1433.52" width="179.75" height="5" fill="#990000"/>
<text x="1017.3" y="1437.79" font-size="6.6" text-anchor="start" font-weight="normal" stroke="#000" stroke-width="0.25">3</text>
<rect x="838" y="1440.52" width="177.5" height="5" fill="#990000"/>
<text x="1017.3" y="1444.8" font-size="6.6" text-anchor="start" font-weight="normal" stroke="#000" stroke-width="0.25">4</text>
<rect x="851.25" y="1447.53" width="164.25" height="5" fill="#990000"/>
<text x="1017.3" y="1451.81" font-size="6.6" text-anchor="start" font-weight="normal" stroke="#000" stroke-width="0.25">5</text>
<rect x="852" y="1454.54" width="163.5" height="5" fill="#990000"/>
<text x="1017.3" y="1458.82" font-size="6.6" text-anchor="start" font-weight="normal" stroke="#000" stroke-width="0.25">6</text>
<rect x="856.75" y="1461.55" width="158.75" height="5" fill="#990000"/>
<text x="1017.3" y="1465.82" font-size="6.6" text-anchor="start" font-weight="normal" stroke="#000" stroke-width="0.25">7</text>
<rect x="862.75" y="1468.56" width="152.75" height="5" fill="#990000"/>
<text x="1017.3" y="1472.83" font-size="6.6" text-anchor="start" font-weight="normal" stroke="#000" stroke-width="0.25">8</text>
<rect x="863.5" y="1475.56" width="152" height="5" fill="#990000"/>
<text x="1017.3" y="1479.84" font-size="6.6" text-anchor="start" font-weight="normal" stroke="#000" stroke-width="0.25">9</text>
<rect x="866.5" y="1482.57" width="149" height="5" fill="#990000"/>
<text x="1017.3" y="1486.85" font-size="6.6" text-anchor="start" font-weight="normal" stroke="#000" stroke-width="0.25">10</text>
<rect x="875" y="1489.58" width="140.5" height="5" fill="#990000"/>
<text x="1017.3" y="1493.86" font-size="6.6" text-anchor="start" font-weight="normal" stroke="#000" stroke-width="0.25">11</text>
<rect x="881.75" y="1496.59" width="133.75" height="5" fill="#990000"/>
<text x="1017.3" y="1500.86" font-size="6.6" text-anchor="start" font-weight="normal" stroke="#000" stroke-width="0.25">12</text>
<rect x="886.25" y="1503.6" width="129.25" height="5" fill="#990000"/>
<text x="1017.3" y="1507.87" font-size="6.6" text-anchor="start" font-weight="normal" stroke="#000" stroke-width="0.25">13</text>
<rect x="886.25" y="1510.6" width="129.25" height="5" fill="#990000"/>
<text x="1017.3" y="1514.88" font-size="6.6" text-anchor="start" font-weight="normal" stroke="#000" stroke-width="0.25">14</text>
<rect x="890" y="1517.61" width="125.5" height="5" fill="#990000"/>
<text x="1017.3" y="1521.89" font-size="6.6" text-anchor="start" font-weight="normal" stroke="#000" stroke-width="0.25">15</text>
<rect x="894.5" y="1524.62" width="121" height="5" fill="#990000"/>
<text x="1017.3" y="1528.9" font-size="6.6" text-anchor="start" font-weight="normal" stroke="#000" stroke-width="0.25">16</text>
<rect x="906" y="1531.63" width="109.5" height="5" fill="#990000"/>
<text x="1017.3" y="1535.9" font-size="6.6" text-anchor="start" font-weight="normal" stroke="#000" stroke-width="0.25">17</text>
<rect x="906.75" y="1538.64" width="108.75" height="5" fill="#990000"/>
<text x="1017.3" y="1542.91" font-size="6.6" text-anchor="start" font-weight="normal" stroke="#000" stroke-width="0.25">18</text>
<rect x="910.25" y="1545.64" width="105.25" height="5" fill="#990000"/>
<text x="1017.3" y="1549.92" font-size="6.6" text-anchor="start" font-weight="normal" stroke="#000" stroke-width="0.25">19</text>
<rect x="910.75" y="1552.65" width="104.75" height="5" fill="#990000"/>
<text x="1017.3" y="1556.93" font-size="6.6" text-anchor="start" font-weight="normal" stroke="#000" stroke-width="0.25">20</text>
<rect x="914" y="1559.66" width="101.5" height="5" fill="#990000"/>
<text x="1017.3" y="1563.94" font-size="6.6" text-anchor="start" font-weight="normal" stroke="#000" stroke-width="0.25">21</text>
<rect x="918.25" y="1566.67" width="97.25" height="5" fill="#990000"/>
<text x="1017.3" y="1570.94" font-size="6.6" text-anchor="start" font-weight="normal" stroke="#000" stroke-width="0.25">22</text>
<rect x="919.75" y="1573.68" width="95.75" height="5" fill="#990000"/>
<text x="1017.3" y="1577.95" font-size="6.6" text-anchor="start" font-weight="normal" stroke="#000" stroke-width="0.25">23</text>
<rect x="919.75" y="1580.68" width="95.75" height="5" fill="#990000"/>
<text x="1017.3" y="1584.96" font-size="6.6" text-anchor="start" font-weight="normal" stroke="#000" stroke-width="0.25">24</text>
<rect x="924.75" y="1587.69" width="90.75" height="5" fill="#990000"/>
<text x="1017.3" y="1591.97" font-size="6.6" text-anchor="start" font-weight="normal" stroke="#000" stroke-width="0.25">25</text>
<rect x="930.75" y="1594.7" width="84.75" height="5" fill="#990000"/>
<text x="1017.3" y="1598.98" font-size="6.6" text-anchor="start" font-weight="normal" stroke="#000" stroke-width="0.25">26</text>
<rect x="931.25" y="1601.71" width="84.25" height="5" fill="#990000"/>
<text x="1017.3" y="1605.98" font-size="6.6" text-anchor="start" font-weight="normal" stroke="#000" stroke-width="0.25">27</text>
<rect x="933.25" y="1608.72" width="82.25" height="5" fill="#990000"/>
<text x="1017.3" y="1612.99" font-size="6.6" text-anchor="start" font-weight="normal" stroke="#000" stroke-width="0.25">28</text>
<rect x="934.25" y="1615.72" width="81.25" height="5" fill="#990000"/>
<text x="1017.3" y="1620" font-size="6.6" text-anchor="start" font-weight="normal" stroke="#000" stroke-width="0.25">29</text>
<rect x="940" y="1622.73" width="75.5" height="5" fill="#990000"/>
<text x="1017.3" y="1627.01" font-size="6.6" text-anchor="start" font-weight="normal" stroke="#000" stroke-width="0.25">30</text>
<rect x="940.75" y="1629.74" width="74.75" height="5" fill="#990000"/>
<text x="1017.3" y="1634.02" font-size="6.6" text-anchor="start" font-weight="normal" stroke="#000" stroke-width="0.25">31</text>
<rect x="941.25" y="1636.75" width="74.25" height="5" fill="#990000"/>
<text x="1017.3" y="1641.02" font-size="6.6" text-anchor="start" font-weight="normal" stroke="#000" stroke-width="0.25">32</text>
<rect x="945.25" y="1643.76" width="70.25" height="5" fill="#990000"/>
<text x="1017.3" y="1648.03" font-size="6.6" text-anchor="start" font-weight="normal" stroke="#000" stroke-width="0.25">33</text>
<rect x="948" y="1650.76" width="67.5" height="5" fill="#990000"/>
<text x="1017.3" y="1655.04" font-size="6.6" text-anchor="start" font-weight="normal" stroke="#000" stroke-width="0.25">34</text>
<rect x="952" y="1657.77" width="63.5" height="5" fill="#990000"/>
<text x="1017.3" y="1662.05" font-size="6.6" text-anchor="start" font-weight="normal" stroke="#000" stroke-width="0.25">35</text>
<rect x="954.5" y="1664.78" width="61" height="5" fill="#990000"/>
<text x="1017.3" y="1669.06" font-size="6.6" text-anchor="start" font-weight="normal" stroke="#000" stroke-width="0.25">36</text>
<rect x="955.75" y="1671.79" width="59.75" height="5" fill="#990000"/>
<text x="1017.3" y="1676.06" font-size="6.6" text-anchor="start" font-weight="normal" stroke="#000" stroke-width="0.25">37</text>
<rect x="956" y="1678.8" width="59.5" height="5" fill="#990000"/>
<text x="1017.3" y="1683.07" font-size="6.6" text-anchor="start" font-weight="normal" stroke="#000" stroke-width="0.25">38</text>
<rect x="960" y="1685.8" width="55.5" height="5" fill="#990000"/>
<text x="1017.3" y="1690.08" font-size="6.6" text-anchor="start" font-weight="normal" stroke="#000" stroke-width="0.25">39</text>
<rect x="962.75" y="1692.81" width="52.75" height="5" fill="#990000"/>
<text x="1017.3" y="1697.09" font-size="6.6" text-anchor="start" font-weight="normal" stroke="#000" stroke-width="0.25">40</text>
<rect x="969.5" y="1699.82" width="46" height="5" fill="#990000"/>
<text x="1017.3" y="1704.1" font-size="6.6" text-anchor="start" font-weight="normal" stroke="#000" stroke-width="0.25">41</text>
<rect x="970" y="1706.83" width="45.5" height="5" fill="#990000"/>
<text x="1017.3" y="1711.1" font-size="6.6" text-anchor="start" font-weight="normal" stroke="#000" stroke-width="0.25">42</text>
<rect x="971.75" y="1713.84" width="43.75" height="5" fill="#990000"/>
<text x="1017.3" y="1718.11" font-size="6.6" text-anchor="start" font-weight="normal" stroke="#000" stroke-width="0.25">43</text>
<rect x="972.25" y="1720.84" width="43.25" height="5" fill="#990000"/>
<text x="1017.3" y="1725.12" font-size="6.6" text-anchor="start" font-weight="normal" stroke="#000" stroke-width="0.25">44</text>
<rect x="973.5" y="1727.85" width="42" height="5" fill="#990000"/>
<text x="1017.3" y="1732.13" font-size="6.6" text-anchor="start" font-weight="normal" stroke="#000" stroke-width="0.25">45</text>
<rect x="979" y="1734.86" width="36.5" height="5" fill="#990000"/>
<text x="1017.3" y="1739.14" font-size="6.6" text-anchor="start" font-weight="normal" stroke="#000" stroke-width="0.25">46</text>
<rect x="981" y="1741.87" width="34.5" height="5" fill="#990000"/>
<text x="1017.3" y="1746.14" font-size="6.6" text-anchor="start" font-weight="normal" stroke="#000" stroke-width="0.25">47</text>
<rect x="981.25" y="1748.88" width="34.25" height="5" fill="#990000"/>
<text x="1017.3" y="1753.15" font-size="6.6" text-anchor="start" font-weight="normal" stroke="#000" stroke-width="0.25">48</text>
<rect x="983.5" y="1755.88" width="32" height="5" fill="#990000"/>
<text x="1017.3" y="1760.16" font-size="6.6" text-anchor="start" font-weight="normal" stroke="#000" stroke-width="0.25">49</text>
<rect x="983.5" y="1762.89" width="32" height="5" fill="#990000"/>
<text x="1017.3" y="1767.17" font-size="6.6" text-anchor="start" font-weight="normal" stroke="#000" stroke-width="0.25">50</text>
<rect x="985.75" y="1769.9" width="29.75" height="5" fill="#990000"/>
<text x="1017.3" y="1774.18" font-size="6.6" text-anchor="start" font-weight="normal" stroke="#000" stroke-width="0.25">51</text>
<rect x="986.75" y="1776.91" width="28.75" height="5" fill="#990000"/>
<text x="1017.3" y="1781.18" font-size="6.6" text-anchor="start" font-weight="normal" stroke="#000" stroke-width="0.25">52</text>
<rect x="988.5" y="1783.92" width="27" height="5" fill="#990000"/>
<text x="1017.3" y="1788.19" font-size="6.6" text-anchor="start" font-weight="normal" stroke="#000" stroke-width="0.25">53</text>
<rect x="989.25" y="1790.92" width="26.25" height="5" fill="#990000"/>
<text x="1017.3" y="1795.2" font-size="6.6" text-anchor="start" font-weight="normal" stroke="#000" stroke-width="0.25">54</text>
<rect x="1000" y="1797.93" width="15.5" height="5" fill="#990000"/>
<text x="1017.3" y="1802.21" font-size="6.6" text-anchor="start" font-weight="normal" stroke="#000" stroke-width="0.25">55</text>
<rect x="1001" y="1804.94" width="14.5" height="5" fill="#990000"/>
<text x="1017.3" y="1809.22" font-size="6.6" text-anchor="start" font-weight="normal" stroke="#000" stroke-width="0.25">56</text>
<rect x="1001" y="1811.95" width="14.5" height="5" fill="#990000"/>
<text x="1017.3" y="1816.22" font-size="6.6" text-anchor="start" font-weight="normal" stroke="#000" stroke-width="0.25">57</text>
<rect x="1004" y="1818.96" width="11.5" height="5" fill="#990000"/>
<text x="1017.3" y="1823.23" font-size="6.6" text-anchor="start" font-weight="normal" stroke="#000" stroke-width="0.25">58</text>
<rect x="1015.5" y="1825.96" width="54.5" height="5" fill="#0000cc"/>
<text x="1013.9" y="1830.24" font-size="6.6" text-anchor="end" font-weight="normal" stroke="#000" stroke-width="0.25">59</text>
<rect x="1015.5" y="1832.97" width="72" height="5" fill="#0000cc"/>
<text x="1013.9" y="1837.25" font-size="6.6" text-anchor="end" font-weight="normal" stroke="#000" stroke-width="0.25">60</text>
<rect x="1015.5" y="1839.98" width="89.75" height="5" fill="#0000cc"/>
<text x="1013.9" y="1844.26" font-size="6.6" text-anchor="end" font-weight="normal" stroke="#000" stroke-width="0.25">61</text>
<rect x="1015.5" y="1846.99" width="98.5" height="5" fill="#0000cc"/>
<text x="1013.9" y="1851.26" font-size="6.6" text-anchor="end" font-weight="normal" stroke="#000" stroke-width="0.25">62</text>
<rect x="1015.5" y="1854" width="112.5" height="5" fill="#0000cc"/>
<text x="1013.9" y="1858.27" font-size="6.6" text-anchor="end" font-weight="normal" stroke="#000" stroke-width="0.25">63</text>
<rect x="1015.5" y="1861" width="133.25" height="5" fill="#0000cc"/>
<text x="1013.9" y="1865.28" font-size="6.6" text-anchor="end" font-weight="normal" stroke="#000" stroke-width="0.25">64</text>
<rect x="1015.5" y="1868.01" width="133.25" height="5" fill="#0000cc"/>
<text x="1013.9" y="1872.29" font-size="6.6" text-anchor="end" font-weight="normal" stroke="#000" stroke-width="0.25">65</text>
<rect x="1015.5" y="1875.02" width="134.5" height="5" fill="#0000cc"/>
<text x="1013.9" y="1879.3" font-size="6.6" text-anchor="end" font-weight="normal" stroke="#000" stroke-width="0.25">66</text>
<rect x="1015.5" y="1882.03" width="183.25" height="5" fill="#0000cc"/>
<text x="1013.9" y="1886.3" font-size="6.6" text-anchor="end" font-weight="normal" stroke="#000" stroke-width="0.25">67</text>
<line x1="752" y1="1887.4" x2="1279" y2="1887.4" stroke="#444" stroke-width="1.2" stroke-linecap="butt"/>
<line x1="752.5" y1="1887.4" x2="752.5" y2="1892" stroke="#000" stroke-width="1" stroke-linecap="butt"/>
<text x="752.5" y="1916.2" font-size="21" text-anchor="middle" font-weight="normal" >-2</text>
<line x1="884" y1="1887.4" x2="884" y2="1892" stroke="#000" stroke-width="1" stroke-linecap="butt"/>
<text x="884" y="1916.2" font-size="21" text-anchor="middle" font-weight="normal" >-1</text>
<line x1="1015.5" y1="1887.4" x2="1015.5" y2="1892" stroke="#000" stroke-width="1" stroke-linecap="butt"/>
<text x="1015.5" y="1916.2" font-size="21" text-anchor="middle" font-weight="normal" >0</text>
<line x1="1147" y1="1887.4" x2="1147" y2="1892" stroke="#000" stroke-width="1" stroke-linecap="butt"/>
<text x="1147" y="1916.2" font-size="21" text-anchor="middle" font-weight="normal" >1</text>
<line x1="1278.5" y1="1887.4" x2="1278.5" y2="1892" stroke="#000" stroke-width="1" stroke-linecap="butt"/>
<text x="1278.5" y="1916.2" font-size="21" text-anchor="middle" font-weight="normal" >2</text>
<text x="1015.38" y="1946.25" font-size="22" text-anchor="middle" font-weight="normal" textLength="278.25" lengthAdjust="spacingAndGlyphs">CD8<tspan font-size="68%" dy="-0.588em">+</tspan><tspan dy="0.400em"> T-cells in irradiated tumors</tspan></text>
<text x="1018.75" y="1974.5" font-size="22" text-anchor="middle" font-weight="normal" textLength="175" lengthAdjust="spacingAndGlyphs">WT vs β2-AR<tspan font-size="68%" dy="-0.588em">-/-</tspan><tspan dy="0.400em"> mice</tspan></text>
<text x="1016.5" y="2000" font-size="22" text-anchor="middle" font-weight="normal" textLength="163.5" lengthAdjust="spacingAndGlyphs">Log<tspan font-size="72%" dy="0.306em">2</tspan><tspan dy="-0.220em"> (Fold change)</tspan></text>
<text x="646" y="1429.5" font-size="41.5" text-anchor="start" font-weight="bold" >j</text>
</g>
</svg>
</body></html>
